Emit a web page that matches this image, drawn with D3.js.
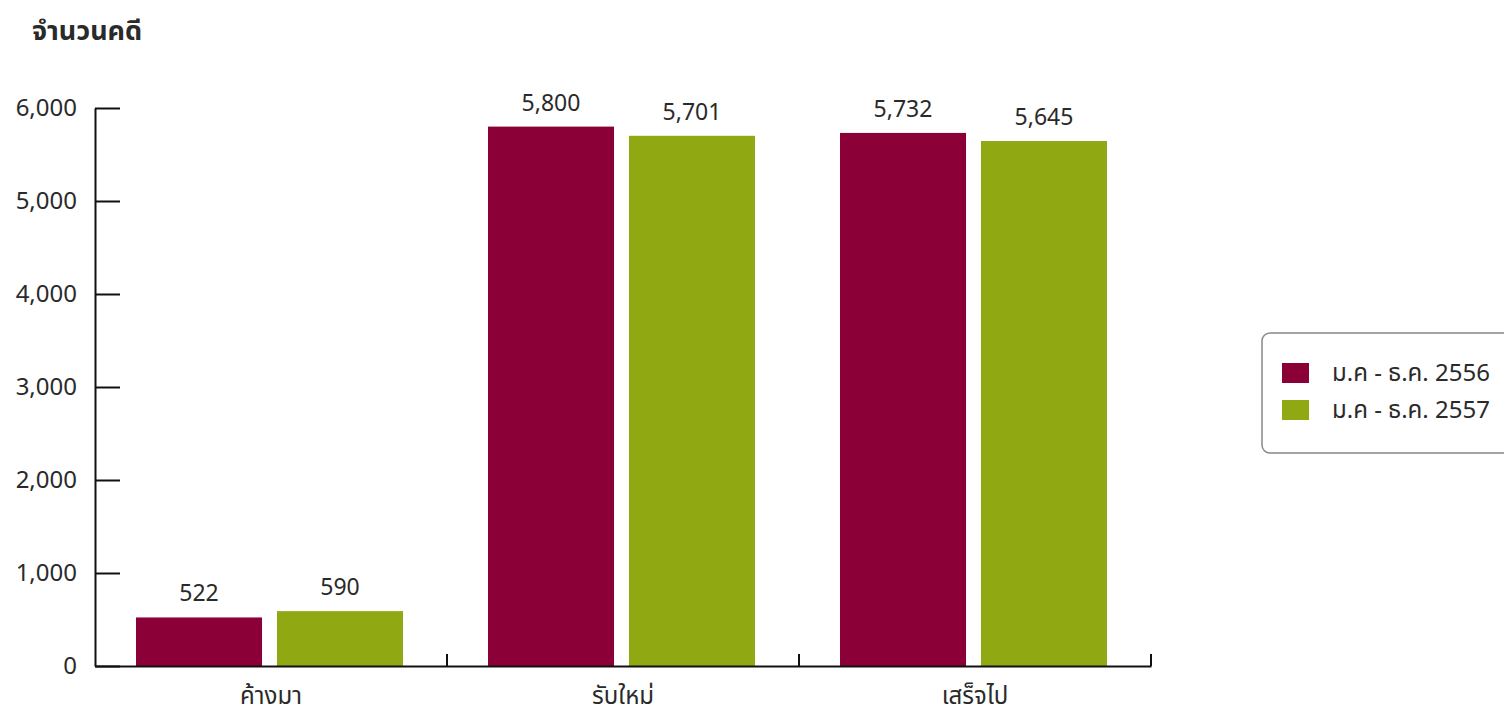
<!DOCTYPE html>
<html>
<head>
<meta charset="utf-8">
<script src="https://cdn.jsdelivr.net/npm/d3@7"></script>
<style>
  body { margin: 0; background: #fff; }
  svg text { font-family: "Noto Sans Thai", "Noto Sans", "DejaVu Sans", sans-serif; fill: #2a2a2a; }
</style>
</head>
<body>
<div id="main"></div>
<script>
// chart data
var categories = ["ค้างมา", "รับใหม่", "เสร็จไป"];
var seriesNames = ["ม.ค - ธ.ค. 2556", "ม.ค - ธ.ค. 2557"];
var values2556 = [522, 5800, 5732];
var values2557 = [590, 5701, 5645];
var yTicks = [0, 1000, 2000, 3000, 4000, 5000, 6000];
var colors = ["#8b0036", "#90a812"];

var ctx = {
    w: 1504,
    h: 720,
    left: 95,
    right: 1151,
    top: 108,
    bottom: 666
};

var svg = d3.select("#main").append("svg")
    .attr("width", ctx.w)
    .attr("height", ctx.h);

// title
svg.append("text")
    .attr("x", 32)
    .attr("y", 40)
    .style("font-size", "27px")
    .style("font-weight", "bold")
    .text("จำนวนคดี");

var y = d3.scaleLinear().domain([0, 6000]).range([ctx.bottom, ctx.top]);
var x = d3.scaleBand().domain(categories).range([ctx.left, ctx.right]);
var xs = d3.scaleBand().domain(seriesNames)
    .range([41, 308])
    .paddingInner(0.106);

// bars, one group per category
var rows = categories.map(function(c, i) {
    return { cat: c, vals: [values2556[i], values2557[i]] };
});

var groups = svg.selectAll("g.cat")
    .data(rows)
    .enter()
    .append("g")
    .attr("class", "cat")
    .attr("transform", function(d) { return "translate(" + x(d.cat) + ",0)"; });

groups.selectAll("rect")
    .data(function(d) { return d.vals.map(function(v, j) { return { name: seriesNames[j], v: v, j: j }; }); })
    .enter()
    .append("rect")
    .attr("x", function(d) { return xs(d.name); })
    .attr("width", xs.bandwidth())
    .attr("y", function(d) { return y(d.v); })
    .attr("height", function(d) { return y(0) - y(d.v); })
    .attr("fill", function(d) { return colors[d.j]; });

groups.selectAll("text.val")
    .data(function(d) { return d.vals.map(function(v, j) { return { name: seriesNames[j], v: v }; }); })
    .enter()
    .append("text")
    .attr("class", "val")
    .attr("x", function(d) { return xs(d.name) + xs.bandwidth() / 2; })
    .attr("y", function(d) { return y(d.v) - 16; })
    .attr("text-anchor", "middle")
    .style("font-size", "23px")
    .text(function(d) { return d3.format(",")(d.v); });

// y axis: ticks point inward
var yAxis = svg.append("g")
    .attr("transform", "translate(" + ctx.left + ",0)")
    .call(d3.axisLeft(y).tickValues(yTicks).tickFormat(d3.format(","))
        .tickSizeInner(-25).tickSizeOuter(0).tickPadding(18));
yAxis.selectAll("line, path").attr("stroke", "#111").attr("stroke-width", 2);
yAxis.selectAll("text").style("font-size", "24px").attr("fill", "#2a2a2a");

// x axis with category separators
var xAxis = svg.append("g")
    .attr("transform", "translate(0," + ctx.bottom + ")")
    .call(d3.axisBottom(x).tickSize(0).tickPadding(21));
xAxis.select("path").attr("stroke", "#111").attr("stroke-width", 2);
xAxis.selectAll("text").style("font-size", "24px").attr("fill", "#2a2a2a");

svg.append("g").selectAll("line")
    .data(categories)
    .enter()
    .append("line")
    .attr("x1", function(d) { return x(d) + x.bandwidth(); })
    .attr("x2", function(d) { return x(d) + x.bandwidth(); })
    .attr("y1", ctx.bottom)
    .attr("y2", ctx.bottom - 12)
    .attr("stroke", "#111")
    .attr("stroke-width", 2);

// legend
var legend = svg.append("g").attr("transform", "translate(1262,333)");
legend.append("rect")
    .attr("width", 260)
    .attr("height", 120)
    .attr("rx", 8)
    .attr("fill", "#fff")
    .attr("stroke", "#888")
    .attr("stroke-width", 1.5);
var items = legend.selectAll("g.item")
    .data(seriesNames)
    .enter()
    .append("g")
    .attr("class", "item")
    .attr("transform", function(d, i) { return "translate(20," + (30 + i * 37) + ")"; });
items.append("rect")
    .attr("width", 27)
    .attr("height", 20)
    .attr("fill", function(d, i) { return colors[i]; });
items.append("text")
    .attr("x", 50)
    .attr("y", 18)
    .style("font-size", "24px")
    .text(function(d) { return d; });
</script>
</body>
</html>
